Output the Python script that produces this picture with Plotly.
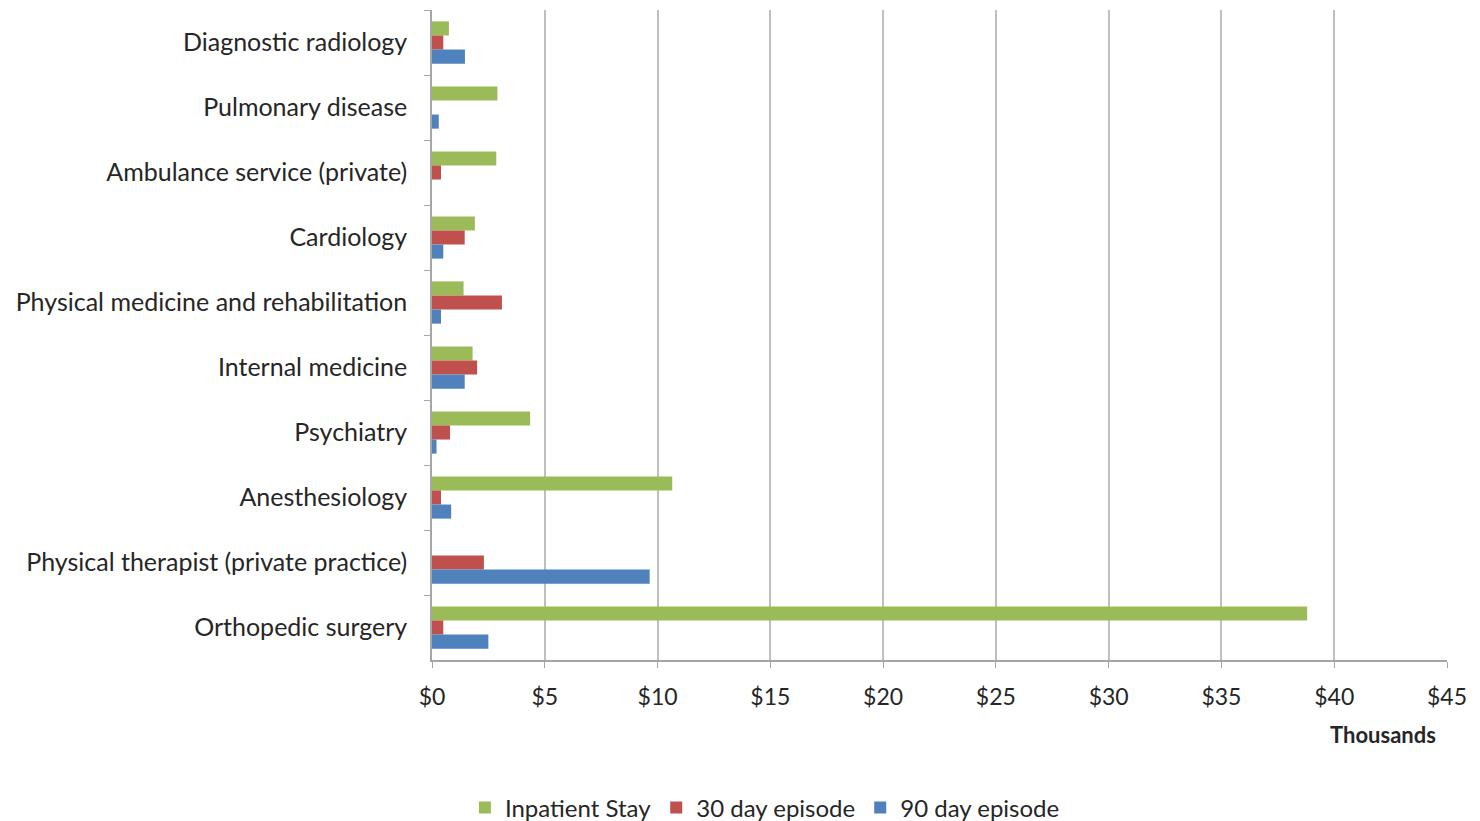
import plotly.graph_objects as go

categories = ["Diagnostic radiology", "Pulmonary disease", "Ambulance service (private)",
              "Cardiology", "Physical medicine and rehabilitation", "Internal medicine",
              "Psychiatry", "Anesthesiology", "Physical therapist (private practice)",
              "Orthopedic surgery"]
inpatient = [0.75, 2.9, 2.85, 1.9, 1.4, 1.8, 4.35, 10.65, 0, 38.8]
day30 = [0.5, 0, 0.4, 1.45, 3.1, 2.0, 0.8, 0.4, 2.3, 0.5]
day90 = [1.46, 0.3, 0, 0.5, 0.4, 1.45, 0.2, 0.85, 9.65, 2.5]
x_ticks = [0, 5, 10, 15, 20, 25, 30, 35, 40, 45]
x_labels = ["$" + str(v) for v in x_ticks]

FONT = "Lato"
FS = 23
fig = go.Figure()
for name, vals, col in [("Inpatient Stay", inpatient, "#9bbb59"),
                        ("30 day episode", day30, "#c0504d"),
                        ("90 day episode", day90, "#4f81bd")]:
    fig.add_trace(go.Bar(y=categories, x=vals, name=name, orientation="h",
                         marker=dict(color=col, line=dict(width=0))))

fig.update_layout(
    width=1472, height=813,
    margin=dict(l=424, r=33, t=2, b=161),
    paper_bgcolor="white", plot_bgcolor="white",
    barmode="group", bargap=0.35, bargroupgap=0,
    font=dict(family=FONT, size=FS, color="#262626"),
    legend=dict(orientation="h", x=0.328, xanchor="center",
                yref="container", y=0.016, yanchor="middle",
                font=dict(size=24), traceorder="normal", itemwidth=30,
                tracegroupgap=0),
    xaxis=dict(range=[0, 45], tickvals=x_ticks, ticktext=x_labels,
               showgrid=True, gridcolor="#bfbfbf", gridwidth=1.5,
               showline=True, linecolor="#a6a6a6", linewidth=1.5,
               ticks="outside", ticklen=6, tickcolor="#a6a6a6", zeroline=False,
               ticklabelstandoff=10, tickfont=dict(size=FS)),
    yaxis=dict(autorange="reversed", showline=True, linecolor="#a6a6a6", linewidth=1.5,
               ticks="outside", ticklen=6, tickcolor="#a6a6a6", showgrid=False,
               tickson="boundaries", ticklabelstandoff=18,
               tickfont=dict(size=25)),
)
fig.add_annotation(text="<b>Thousands</b>", xref="paper", yref="paper",
                   x=0.991, y=-0.115, xanchor="right", yanchor="middle",
                   showarrow=False, font=dict(size=FS - 1, color="#262626"))
fig.write_html("out.html")
